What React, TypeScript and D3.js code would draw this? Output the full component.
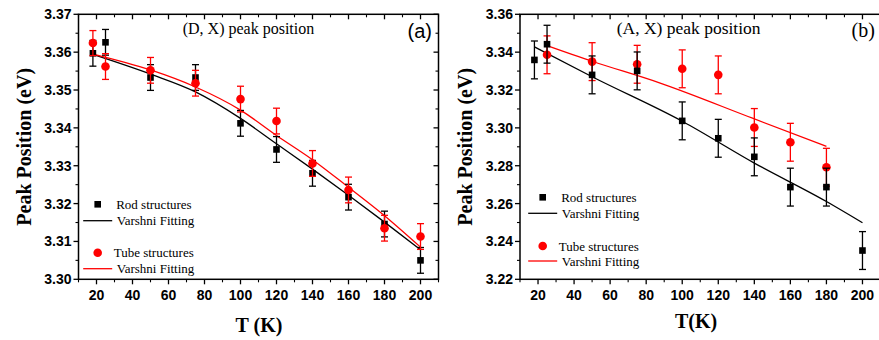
import React from "react";
import * as d3 from "d3";

// ---------- data ----------
const xTicks = [20, 40, 60, 80, 100, 120, 140, 160, 180, 200];
const xMinor = [10, 30, 50, 70, 90, 110, 130, 150, 170, 190, 210];

// Panel (a): (D, X) peak position
const yTicksA = [3.30, 3.31, 3.32, 3.33, 3.34, 3.35, 3.36, 3.37];
const yMinorA = [3.305, 3.315, 3.325, 3.335, 3.345, 3.355, 3.365];
const rodTempA = [18, 25, 50, 75, 100, 120, 140, 160, 180, 200];
const rodValA = [3.3597, 3.3626, 3.3533, 3.3533, 3.3412, 3.3343, 3.3280, 3.3217, 3.3146, 3.3050];
const rodErrA = [0.0034, 0.0034, 0.0034, 0.0034, 0.0034, 0.0034, 0.0034, 0.0034, 0.0034, 0.0034];
const tubeTempA = [18, 25, 50, 75, 100, 120, 140, 160, 180, 200];
const tubeValA = [3.3624, 3.3562, 3.3552, 3.3518, 3.3476, 3.3418, 3.3306, 3.3236, 3.3135, 3.3113];
const tubeErrA = [0.0033, 0.0034, 0.0034, 0.0034, 0.0034, 0.0034, 0.0034, 0.0034, 0.0034, 0.0034];
const rodFitTA = [18, 50, 75, 100, 120, 140, 160, 180, 200];
const rodFitVA = [3.3594, 3.3542, 3.3495, 3.3425, 3.3358, 3.3291, 3.3222, 3.3151, 3.3078];
const tubeFitTA = [18, 50, 75, 100, 120, 140, 160, 180, 200];
const tubeFitVA = [3.3595, 3.3553, 3.3508, 3.3447, 3.3380, 3.3316, 3.3243, 3.3168, 3.3085];

// Panel (b): (A, X) peak position
const yTicksB = [3.22, 3.24, 3.26, 3.28, 3.30, 3.32, 3.34, 3.36];
const yMinorB = [3.23, 3.25, 3.27, 3.29, 3.31, 3.33, 3.35];
const rodTempB = [18, 25, 50, 75, 100, 120, 140, 160, 180, 200];
const rodValB = [3.3359, 3.3442, 3.3280, 3.3301, 3.3037, 3.2945, 3.2847, 3.2687, 3.2687, 3.2352];
const rodErrB = [0.01, 0.01, 0.01, 0.01, 0.01, 0.01, 0.01, 0.01, 0.01, 0.01];
const tubeTempB = [25, 50, 75, 100, 120, 140, 160, 180];
const tubeValB = [3.3386, 3.3350, 3.3336, 3.3312, 3.3280, 3.3002, 3.2924, 3.2792];
const tubeErrB = [0.01, 0.01, 0.01, 0.01, 0.01, 0.01, 0.01, 0.01];
const rodFitTB = [18, 50, 100, 140, 180, 200];
const rodFitVB = [3.3428, 3.3270, 3.3035, 3.2814, 3.2611, 3.2499];
const tubeFitTB = [25, 50, 87, 139, 180];
const tubeFitVB = [3.3435, 3.3352, 3.3239, 3.3051, 3.2902];

const legendLabels = ["Rod structures", "Varshni Fitting", "Tube structures", "Varshni Fitting"];

type PanelProps = {
  x0: number; x1: number; y0: number; y1: number;
  yDomain: [number, number];
  yTicks: number[]; yMinor: number[];
  rodT: number[]; rodV: number[]; rodE: number[];
  tubeT: number[]; tubeV: number[]; tubeE: number[];
  rodFitT: number[]; rodFitV: number[];
  tubeFitT: number[]; tubeFitV: number[];
  title: string; titleX: number; titleSize: number;
  tag: string; tagX: number; tagFont: string; tagY: number;
  xLabel: string; xLabelX: number; xLabelY: number;
  yLabelX: number;
  redOnTop: boolean;
  showRight: boolean;
  legX: number; legY: number[];
};

const SANS = "'Liberation Sans', Arial, sans-serif";
const SERIF = "'Liberation Serif', 'Times New Roman', serif";

function Panel(p: PanelProps) {
  const x = d3.scaleLinear().domain([10, 210]).range([p.x0, p.x1]);
  const y = d3.scaleLinear().domain(p.yDomain).range([p.y1, p.y0]);
  const lineGen = d3
    .line<[number, number]>()
    .x((d) => x(d[0]))
    .y((d) => y(d[1]))
    .curve(d3.curveMonotoneX);
  const fmt = d3.format(".2f");
  const rodFit = p.rodFitT.map((t, i) => [t, p.rodFitV[i]] as [number, number]);
  const tubeFit = p.tubeFitT.map((t, i) => [t, p.tubeFitV[i]] as [number, number]);

  const errBars = (T: number[], V: number[], E: number[], color: string) =>
    T.map((t, i) => {
      const cx = x(t);
      const yt = y(V[i] + E[i]);
      const yb = y(V[i] - E[i]);
      return (
        <g key={"e" + i} stroke={color} strokeWidth={1.3}>
          <line x1={cx} x2={cx} y1={yt} y2={yb} />
          <line x1={cx - 3.5} x2={cx + 3.5} y1={yt} y2={yt} />
          <line x1={cx - 3.5} x2={cx + 3.5} y1={yb} y2={yb} />
        </g>
      );
    });

  const rodGroup = (
    <g>
      {errBars(p.rodT, p.rodV, p.rodE, "#000")}
      {p.rodT.map((t, i) => (
        <rect key={"s" + i} x={x(t) - 3.3} y={y(p.rodV[i]) - 3.3} width={6.6} height={6.6} fill="#000" />
      ))}
    </g>
  );
  const tubeGroup = (
    <g>
      {errBars(p.tubeT, p.tubeV, p.tubeE, "#ff0000")}
      {p.tubeT.map((t, i) => (
        <circle key={"c" + i} cx={x(t)} cy={y(p.tubeV[i])} r={4.3} fill="#ff0000" />
      ))}
    </g>
  );

  const yMid = (p.y0 + p.y1) / 2;
  const lx = p.legX;

  return (
    <g>
      {/* fits */}
      <path d={lineGen(rodFit) || ""} fill="none" stroke="#000" strokeWidth={1.3} />
      <path d={lineGen(tubeFit) || ""} fill="none" stroke="#ff0000" strokeWidth={1.3} />
      {p.redOnTop ? (<>{rodGroup}{tubeGroup}</>) : (<>{tubeGroup}{rodGroup}</>)}

      {/* frame */}
      <rect x={p.x0} y={p.y0} width={p.x1 - p.x0} height={p.y1 - p.y0} fill="none" stroke="#000" strokeWidth={1.5} />

      {/* x ticks */}
      {xTicks.map((t) => (
        <g key={"xt" + t} stroke="#000" strokeWidth={1.3}>
          <line x1={x(t)} x2={x(t)} y1={p.y1} y2={p.y1 + 5} />
          <line x1={x(t)} x2={x(t)} y1={p.y0} y2={p.y0 + 5} />
        </g>
      ))}
      {xMinor.map((t) => (
        <g key={"xm" + t} stroke="#000" strokeWidth={1.1}>
          <line x1={x(t)} x2={x(t)} y1={p.y1} y2={p.y1 + 3} />
          <line x1={x(t)} x2={x(t)} y1={p.y0} y2={p.y0 + 3} />
        </g>
      ))}
      {xTicks.map((t) => (
        <text key={"xl" + t} x={x(t)} y={p.y1 + 21} textAnchor="middle" fontFamily={SANS} fontWeight="bold" fontSize={14}>
          {t}
        </text>
      ))}

      {/* y ticks */}
      {p.yTicks.map((v) => (
        <g key={"yt" + v} stroke="#000" strokeWidth={1.3}>
          <line x1={p.x0 - 5} x2={p.x0} y1={y(v)} y2={y(v)} />
          {p.showRight && <line x1={p.x1 - 5} x2={p.x1} y1={y(v)} y2={y(v)} />}
        </g>
      ))}
      {p.yMinor.map((v) => (
        <g key={"ym" + v} stroke="#000" strokeWidth={1.1}>
          <line x1={p.x0 - 3} x2={p.x0} y1={y(v)} y2={y(v)} />
          {p.showRight && <line x1={p.x1 - 3} x2={p.x1} y1={y(v)} y2={y(v)} />}
        </g>
      ))}
      {p.yTicks.map((v) => (
        <text key={"yl" + v} x={p.x0 - 7} y={y(v) + 5} textAnchor="end" fontFamily={SANS} fontWeight="bold" fontSize={14}>
          {fmt(v)}
        </text>
      ))}

      {/* titles */}
      <text x={p.titleX} y={34} fontFamily={SERIF} fontSize={p.titleSize}>{p.title}</text>
      <text x={p.tagX} y={p.tagY} fontFamily={p.tagFont} fontSize={20}>{p.tag}</text>
      <text x={p.xLabelX} y={p.xLabelY} textAnchor="middle" fontFamily={SERIF} fontWeight="bold" fontSize={20}>{p.xLabel}</text>
      <text
        transform={`translate(${p.yLabelX},${yMid}) rotate(-90)`}
        textAnchor="middle"
        fontFamily={SERIF}
        fontWeight="bold"
        fontSize={20}
      >
        Peak Position (eV)
      </text>

      {/* legend */}
      <rect x={lx - 3.3} y={p.legY[0] - 3.3} width={6.6} height={6.6} fill="#000" />
      <text x={lx + 18.5} y={p.legY[0] + 4.5} fontFamily={SERIF} fontSize={13}>{legendLabels[0]}</text>
      <line x1={lx - 14.5} x2={lx + 14.5} y1={p.legY[1]} y2={p.legY[1]} stroke="#000" strokeWidth={1.3} />
      <text x={lx + 19} y={p.legY[1] + 4.5} fontFamily={SERIF} fontSize={13}>{legendLabels[1]}</text>
      <circle cx={lx} cy={p.legY[2]} r={4.3} fill="#ff0000" />
      <text x={lx + 16} y={p.legY[2] + 4.5} fontFamily={SERIF} fontSize={13}>{legendLabels[2]}</text>
      <line x1={lx - 14.5} x2={lx + 14.5} y1={p.legY[3]} y2={p.legY[3]} stroke="#ff0000" strokeWidth={1.3} />
      <text x={lx + 19} y={p.legY[3] + 4.5} fontFamily={SERIF} fontSize={13}>{legendLabels[3]}</text>
    </g>
  );
}

export default function App() {
  return (
    <svg
      width={879}
      height={340}
      viewBox="0 0 879 340"
      style={{ position: "absolute", left: 0, top: 0, background: "#fff" }}
    >
      <rect x={0} y={0} width={879} height={340} fill="#fff" />
      <Panel
        x0={78.5} x1={438.5} y0={14.3} y1={279.3}
        yDomain={[3.30, 3.37]} yTicks={yTicksA} yMinor={yMinorA}
        rodT={rodTempA} rodV={rodValA} rodE={rodErrA}
        tubeT={tubeTempA} tubeV={tubeValA} tubeE={tubeErrA}
        rodFitT={rodFitTA} rodFitV={rodFitVA}
        tubeFitT={tubeFitTA} tubeFitV={tubeFitVA}
        title="(D, X) peak position" titleX={182.7} titleSize={16}
        tag="(a)" tagX={407.5} tagFont={SANS} tagY={37.5}
        xLabel="T (K)" xLabelX={259} xLabelY={332}
        yLabelX={31}
        redOnTop={true}
        showRight={true}
        legX={97.7} legY={[204.3, 220.7, 252.7, 268.7]}
      />
      <Panel
        x0={520} x1={880.5} y0={14.3} y1={279.3}
        yDomain={[3.22, 3.36]} yTicks={yTicksB} yMinor={yMinorB}
        rodT={rodTempB} rodV={rodValB} rodE={rodErrB}
        tubeT={tubeTempB} tubeV={tubeValB} tubeE={tubeErrB}
        rodFitT={rodFitTB} rodFitV={rodFitVB}
        tubeFitT={tubeFitTB} tubeFitV={tubeFitVB}
        title="(A, X) peak position" titleX={616.7} titleSize={17.5}
        tag="(b)" tagX={851.5} tagFont={SERIF} tagY={36.5}
        xLabel="T(K)" xLabelX={696} xLabelY={328}
        yLabelX={472}
        redOnTop={false}
        showRight={false}
        legX={542.7} legY={[197.3, 213.3, 246, 261]}
      />
    </svg>
  );
}
